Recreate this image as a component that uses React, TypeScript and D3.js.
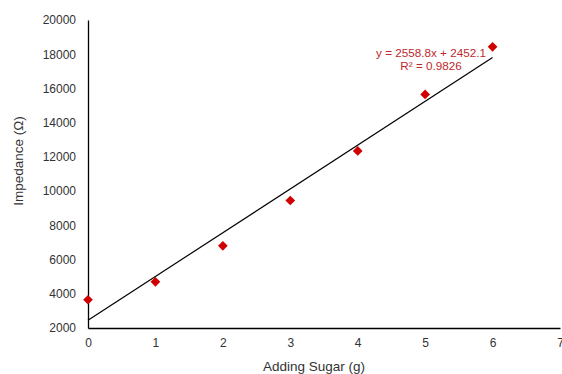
import * as d3 from "d3";
import { useEffect, useRef } from "react";

const sugar = [0, 1, 2, 3, 4, 5, 6];
const impedance = [3650, 4700, 6800, 9450, 12350, 15650, 18430];
const xTicks = [0, 1, 2, 3, 4, 5, 6, 7];
const yTicks = [2000, 4000, 6000, 8000, 10000, 12000, 14000, 16000, 18000, 20000];
const slope = 2558.8;
const intercept = 2452.1;
const eqLabel = "y = 2558.8x + 2452.1";
const r2Label = "R² = 0.9826";

function drawChart(container: HTMLElement) {
  const width = 562;
  const height = 374;
  const marginLeft = 88;
  const marginRight = 2;
  const marginTop = 20;
  const marginBottom = 46;
  const font = "'Liberation Sans', Arial, sans-serif";

  const svg = d3.select(container)
    .append("svg")
    .attr("width", width)
    .attr("height", height)
    .attr("viewBox", [0, 0, width, height])
    .style("position", "absolute")
    .style("left", "0px")
    .style("top", "0px")
    .style("background", "#fff");

  const x = d3.scaleLinear([0, 7], [marginLeft, width - marginRight]);
  const y = d3.scaleLinear([2000, 20000], [height - marginBottom, marginTop]);

  // axes
  const xAxis = svg.append("g")
    .attr("transform", `translate(0, ${y(2000)})`)
    .call(d3.axisBottom(x).tickValues(xTicks).tickSize(0).tickPadding(10).tickFormat(d3.format("d")));
  xAxis.select(".domain").attr("stroke", "#000").attr("stroke-width", 1.3);
  xAxis.selectAll("text").attr("font-family", font).attr("font-size", 12).attr("fill", "#333");

  const yAxis = svg.append("g")
    .attr("transform", `translate(${x(0)}, 0)`)
    .call(d3.axisLeft(y).tickValues(yTicks).tickSize(0).tickPadding(12).tickFormat(d3.format("d")));
  yAxis.select(".domain").attr("stroke", "#000").attr("stroke-width", 1.3);
  yAxis.selectAll("text").attr("font-family", font).attr("font-size", 12).attr("fill", "#333");

  // trendline
  const line = d3.line<number>().x(d => x(d)).y(d => y(slope * d + intercept));
  svg.append("path")
    .datum([0, 6])
    .attr("d", line)
    .attr("fill", "none")
    .attr("stroke", "#000")
    .attr("stroke-width", 1.2);

  // points
  const diamond = d3.symbol(d3.symbolDiamond2, 60);
  svg.append("g")
    .attr("fill", "#d00000")
    .selectAll("path")
    .data(sugar)
    .join("path")
    .attr("d", diamond)
    .attr("transform", (d, i) => `translate(${x(d)}, ${y(impedance[i])})`);

  // equation
  svg.append("text")
    .attr("x", 431).attr("y", 57)
    .attr("text-anchor", "middle")
    .attr("font-family", font).attr("font-size", 11.7)
    .attr("fill", "#c0282d")
    .text(eqLabel);
  svg.append("text")
    .attr("x", 431).attr("y", 70)
    .attr("text-anchor", "middle")
    .attr("font-family", font).attr("font-size", 11.7)
    .attr("fill", "#c0282d")
    .text(r2Label);

  // axis titles
  svg.append("text")
    .attr("x", 314).attr("y", 371)
    .attr("text-anchor", "middle")
    .attr("font-family", font).attr("font-size", 13.5)
    .attr("fill", "#333")
    .text("Adding Sugar (g)");
  svg.append("text")
    .attr("transform", "translate(23, 161) rotate(-90)")
    .attr("text-anchor", "middle")
    .attr("font-family", font).attr("font-size", 13.5)
    .attr("fill", "#333")
    .text("Impedance (Ω)");
}

export default function App() {
  const domRef = useRef<HTMLDivElement>(null);
  useEffect(() => {
    if (domRef.current) drawChart(domRef.current);
    return () => {
      if (domRef.current) d3.select(domRef.current).selectAll("svg").remove();
    };
  }, []);
  return <div ref={domRef}></div>;
}
